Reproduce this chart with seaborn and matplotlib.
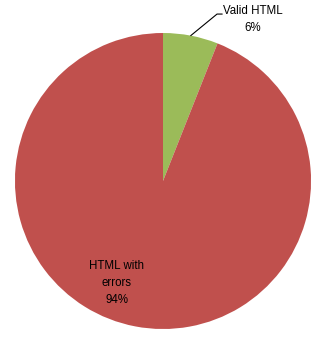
import matplotlib
matplotlib.use("Agg")
import matplotlib.pyplot as plt
import seaborn as sns
import numpy as np

categories = ["Valid HTML", "HTML with errors"]
values = [6, 94]
colors = ["#9BBB59", "#C0504D"]

sns.set_theme(style="white")
plt.rcParams['font.family'] = ['Liberation Sans', 'DejaVu Sans']

fig = plt.figure(figsize=(3.26, 3.41), dpi=100)
ax = fig.add_axes([0, 0, 1, 1])
wedges, _ = ax.pie(values, colors=colors, startangle=90, counterclock=False,
                   radius=1.0, wedgeprops=dict(linewidth=0))
ax.set_xlim(-1.101, 1.101)
ax.set_ylim(-1.081, 1.223)
ax.set_aspect('auto')
ax.axis('off')

# Valid HTML label with leader line
w = wedges[0]
mid = np.deg2rad((w.theta1 + w.theta2) / 2)
ex, ey = np.cos(mid), np.sin(mid)
ax.plot([ex, 0.365, 0.40], [ey, 1.128, 1.128], color="black", lw=0.8)
ax.text(0.605, 1.09, f"{categories[0]}\n{values[0]}%", ha="center", va="center",
        fontsize=8.3, linespacing=1.55, color="black")

ax.text(-0.311, -0.689, "HTML with\nerrors\n" + f"{values[1]}%", ha="center", va="center",
        fontsize=8.3, linespacing=1.55, color="black")

fig.savefig("out.png", dpi=100, facecolor="white")
